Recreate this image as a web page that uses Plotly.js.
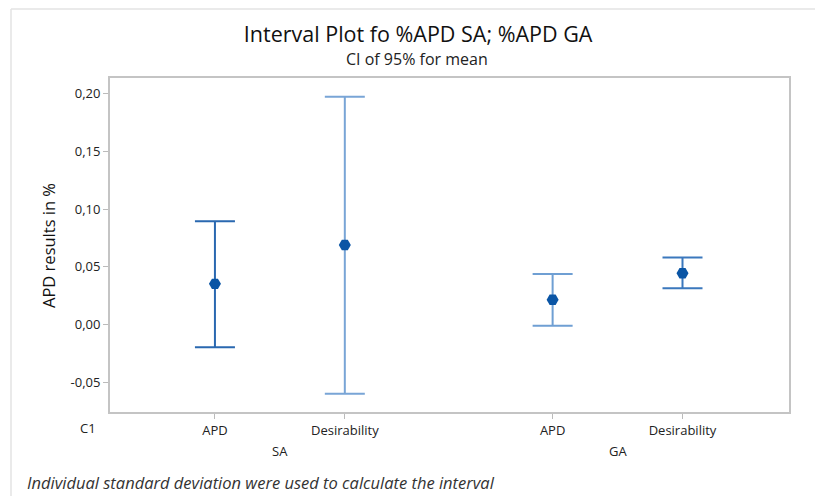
<!DOCTYPE html>
<html>
<head>
<meta charset="utf-8">
<script src="https://cdn.plot.ly/plotly-3.0.1.min.js"></script>
<style>html,body{margin:0;padding:0;background:#fff;}#chart{width:815px;height:496px;}</style>
</head>
<body>
<div id="chart"></div>
<script>
// Data
const groups = ["SA", "SA", "GA", "GA"];
const categories = ["APD", "Desirability", "APD", "Desirability"];
const means = [0.0353, 0.0689, 0.0215, 0.0445];
const upper = [0.0895, 0.1970, 0.0439, 0.0580];
const lower = [-0.0195, -0.0597, -0.0009, 0.0316];
const barColors = ["#2a68b0", "#79a5d6", "#6f9fd3", "#3b78bd"];

// layout helpers: position within group and group offset
const groupNames = ["SA", "GA"];
const groupGap = 2.6;
const xpos = [];
const idxInGroup = {};
groups.forEach((g, i) => {
  const gi = groupNames.indexOf(g);
  idxInGroup[g] = (idxInGroup[g] === undefined) ? 0 : idxInGroup[g] + 1;
  xpos.push(gi * groupGap + idxInGroup[g]);
});

const traces = means.map((m, i) => ({
  type: "scatter",
  mode: "markers",
  x: [xpos[i]],
  y: [m],
  marker: {symbol: "hexagon2", size: 12, color: "#0a55a5"},
  error_y: {
    type: "data",
    symmetric: false,
    array: [upper[i] - m],
    arrayminus: [m - lower[i]],
    color: barColors[i],
    thickness: 2,
    width: 20
  },
  hoverinfo: "x+y",
  showlegend: false
}));

const fontFam = "'Open Sans', 'Noto Sans', sans-serif";
const groupCenters = groupNames.map(g => {
  const xs = xpos.filter((x, i) => groups[i] === g);
  return xs.reduce((a, b) => a + b, 0) / xs.length;
});

const W = 679, H = 334, L = 110, B = 412;
const px = v => (v - L) / W;
const py = v => (B - v) / H;

const annotations = [
  {text: "CI of 95% for mean", xref: "paper", yref: "paper", x: px(417), y: py(59), xanchor: "center", yanchor: "middle", showarrow: false, font: {size: 16, color: "#222", family: fontFam}},
  {text: "APD results in %", xref: "paper", yref: "paper", x: px(48), y: py(246), xanchor: "center", yanchor: "middle", textangle: -90, showarrow: false, font: {size: 16.5, color: "#111", family: fontFam}},
  {text: "C1", xref: "paper", yref: "paper", x: px(88), y: py(428), xanchor: "center", yanchor: "middle", showarrow: false, font: {size: 13, color: "#222", family: fontFam}},
  {text: "<i>Individual standard deviation were used to calculate the interval</i>", xref: "paper", yref: "paper", x: px(25), y: py(482), xanchor: "left", yanchor: "middle", showarrow: false, font: {size: 16.5, color: "#333", family: fontFam}}
];
groupNames.forEach((g, k) => {
  annotations.push({text: g, xref: "x", yref: "paper", x: groupCenters[k], y: py(451), xanchor: "center", yanchor: "middle", showarrow: false, font: {size: 13, color: "#222", family: fontFam}});
});

const layout = {
  width: 815, height: 496,
  margin: {l: 110, r: 26, t: 78, b: 84},
  paper_bgcolor: "#ffffff",
  plot_bgcolor: "#ffffff",
  font: {family: fontFam, color: "#222"},
  title: {text: "Interval Plot fo %APD SA; %APD GA", x: 0.513, xanchor: "center", y: 1 - 34 / 496, yanchor: "middle", font: {size: 21.5, color: "#111", family: fontFam}},
  xaxis: {
    range: [-0.808, 4.42],
    tickvals: xpos,
    ticktext: categories,
    ticks: "outside", ticklen: 5, tickcolor: "#bbbbbb", tickwidth: 1,
    showgrid: false, zeroline: false,
    showline: true, linecolor: "#c4c4c4", linewidth: 2, mirror: true,
    tickfont: {size: 13, color: "#222"},
    fixedrange: true
  },
  yaxis: {
    range: [-0.0755, 0.2133],
    tickvals: [-0.05, 0, 0.05, 0.10, 0.15, 0.20],
    ticktext: ["-0,05", "0,00", "0,05", "0,10", "0,15", "0,20"],
    ticks: "outside", ticklen: 5, tickcolor: "#bbbbbb", tickwidth: 1,
    showgrid: false, zeroline: false,
    showline: true, linecolor: "#c4c4c4", linewidth: 2, mirror: true,
    tickfont: {size: 13, color: "#222"},
    fixedrange: true
  },
  annotations: annotations,
  shapes: [
    {type: "line", xref: "paper", yref: "paper", x0: px(11), x1: px(815), y0: py(9), y1: py(9), line: {color: "#e3e3e3", width: 1.5}},
    {type: "line", xref: "paper", yref: "paper", x0: px(11), x1: px(11), y0: py(9), y1: py(500), line: {color: "#e3e3e3", width: 1.5}}
  ]
};

Plotly.newPlot("chart", traces, layout, {displayModeBar: false});
</script>
</body>
</html>
